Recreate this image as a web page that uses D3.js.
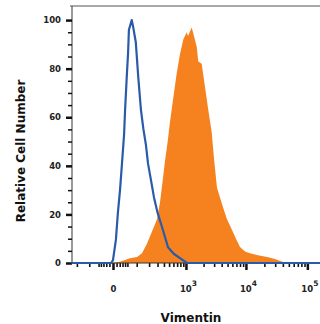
<!DOCTYPE html>
<html><head><meta charset="utf-8">
<script src="https://cdn.jsdelivr.net/npm/d3@7"></script>
<style>body{margin:0;background:#fff}svg{display:block}</style>
</head><body>
<svg id="c" width="320" height="324"></svg>
<script>
// Isotype control (blue outline)
const isoX = [-260,-5,0,8,14,21,28,36,40,47,53,57,71,78,94,110,129,147,170,189,220,254,302,384,477,615,787,1040,200000];
const isoY = [0,0,1.2,9.5,20.6,30,41,53,63,76.5,86.5,96,100,97.5,91,76.5,63,55.5,48.5,41,34,27,20.5,13.5,6.5,3.7,2,0,0];
// Vimentin stained (orange filled)
const vimX = [-8,11,21,62,102,137,180,231,293,336,384,419,457,477,519,597,687,787,899,1030,1085,1256,1323,1530,1628,1858,2111,2397,2740,2983,3345,3750,4204,4893,5914,6878,8000,9657,11655,15744,22064,29790,40195,46685];
const vimY = [0,0.3,0.5,2,2.5,4,8,13,18,25,35,42,48,51,58,68,78,86,92,95,93.5,97,95,89,83,82,72.5,63,53.5,43,31,27,23,18,13.6,10,6.6,4.7,4,3.2,2.5,1.6,0.4,0];
const yMajorTicks = [0,20,40,60,80,100];
const yMinorTicks = [5,10,15,25,30,35,45,50,55,65,70,75,85,90,95];
const xMajorTicks = [0,1000,10000,100000];
const xMinorTicks = [-200,-100,-50,-40,-30,-20,-10,10,20,30,40,50,100,200,300,400,500,600,700,800,900,
  2000,3000,4000,5000,6000,7000,8000,9000,20000,30000,40000,50000,60000,70000,80000,90000];
const xLabelBase = ["0","10","10","10"];
const xLabelExp = ["","3","4","5"];
const xTitle = "Vimentin";
const yTitle = "Relative Cell Number";

const svg = d3.select("#c");
const L = 72, R = 320, T = 6, B = 263;
const x = d3.scaleSymlog().constant(70).domain([-254,160440]).range([L,R]);
const y = d3.scaleLinear().domain([0,105.8]).range([B,T]);
const font = "'DejaVu Sans', sans-serif";

const vim = vimX.map((v,i)=>[v,vimY[i]]);
const iso = isoX.map((v,i)=>[v,isoY[i]]);

// orange area
svg.append("path").datum(vim)
  .attr("d", d3.area().x(d=>x(d[0])).y0(y(0)).y1(d=>y(d[1])))
  .attr("fill","#f5821f");

// frame: left & top
svg.append("line").attr("x1",L).attr("x2",L).attr("y1",T).attr("y2",B+1).attr("stroke","#555").attr("stroke-width",1.2);
svg.append("line").attr("x1",L-2).attr("x2",R).attr("y1",T).attr("y2",T).attr("stroke","#555").attr("stroke-width",1.2);

// y axis ticks
const gyMin = svg.append("g").attr("transform",`translate(${L},0)`)
  .call(d3.axisLeft(y).tickValues(yMinorTicks).tickSize(4).tickFormat(""));
gyMin.select(".domain").remove();
gyMin.selectAll(".tick line").attr("stroke","#111").attr("stroke-width",1.5);
const gyMaj = svg.append("g").attr("transform",`translate(${L},0)`)
  .call(d3.axisLeft(y).tickValues(yMajorTicks).tickSize(6).tickPadding(5));
gyMaj.select(".domain").remove();
gyMaj.selectAll(".tick line").attr("stroke","#111").attr("stroke-width",2.5);
gyMaj.selectAll(".tick text").attr("font-family",font).attr("font-weight","bold")
  .attr("font-size","8.5px").attr("fill","#222");

// x axis ticks
const gxMin = svg.append("g").attr("transform",`translate(0,${B})`)
  .call(d3.axisBottom(x).tickValues(xMinorTicks).tickSize(4).tickFormat(""));
gxMin.select(".domain").remove();
gxMin.selectAll(".tick line").attr("stroke","#111").attr("stroke-width",1.6);
const gxMaj = svg.append("g").attr("transform",`translate(0,${B})`)
  .call(d3.axisBottom(x).tickValues(xMajorTicks).tickSize(7).tickFormat(""));
gxMaj.select(".domain").remove();
gxMaj.selectAll(".tick line").attr("stroke","#111").attr("stroke-width",2.5);
gxMaj.selectAll(".tick").each(function(d,i){
  const t = d3.select(this).append("text").attr("y",29)
    .attr("font-family",font).attr("font-weight","bold").attr("font-size","8.5px")
    .attr("fill","#222").attr("text-anchor","middle");
  if (xLabelExp[i]) {
    t.attr("x",2);
    t.append("tspan").text(xLabelBase[i]);
    t.append("tspan").attr("dy",-6).attr("font-size","7.5px").text(xLabelExp[i]);
  } else {
    t.text(xLabelBase[i]);
  }
});

// baseline axis
svg.append("line").attr("x1",L).attr("x2",R).attr("y1",B).attr("y2",B).attr("stroke","#333").attr("stroke-width",1);

// blue isotype line
svg.append("path").datum(iso)
  .attr("d", d3.line().x(d=>x(d[0])).y(d=>y(d[1])))
  .attr("fill","none").attr("stroke","#2a5ba8").attr("stroke-width",2.2).attr("stroke-linejoin","round");

// titles
svg.append("text").attr("x",191).attr("y",322).attr("text-anchor","middle")
  .attr("font-family",font).attr("font-weight","bold").attr("font-size","12px").attr("fill","#111").text(xTitle);
svg.append("text").attr("transform","translate(25,151) rotate(-90)").attr("text-anchor","middle")
  .attr("font-family",font).attr("font-weight","bold").attr("font-size","12px").attr("fill","#111").text(yTitle);
</script>
</body></html>
